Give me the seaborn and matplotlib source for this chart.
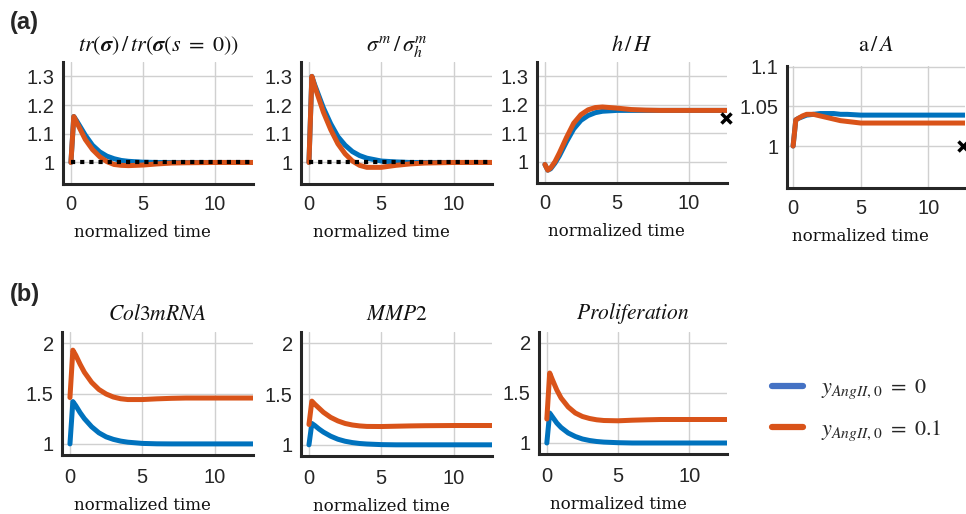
import numpy as np
import pandas as pd
import matplotlib
matplotlib.use("Agg")
import matplotlib.pyplot as plt
from matplotlib.lines import Line2D
import seaborn as sns

# ---------------- data ----------------
T = [0, 0.2, 0.4, 0.7, 1.0, 1.5, 2.0, 2.5, 3.0, 3.5, 4.0, 5.0, 6.0, 7.0, 8.0, 10.0, 13.0]

tr_blue = [1.0, 1.16, 1.145, 1.12, 1.095, 1.06, 1.037, 1.022, 1.013, 1.007, 1.004, 1.001, 1.0, 1.0, 1.0, 1.0, 1.0]
tr_orange = [1.0, 1.16, 1.14, 1.11, 1.08, 1.045, 1.02, 1.003, 0.993, 0.99, 0.989, 0.991, 0.995, 0.998, 0.999, 1.0, 1.0]

sm_blue = [1.0, 1.30, 1.27, 1.23, 1.19, 1.135, 1.09, 1.06, 1.038, 1.024, 1.015, 1.005, 1.002, 1.0, 1.0, 1.0, 1.0]
sm_orange = [1.0, 1.30, 1.265, 1.22, 1.175, 1.115, 1.065, 1.03, 1.005, 0.99, 0.983, 0.983, 0.99, 0.995, 0.998, 1.0, 1.0]

h_blue = [0.99, 0.97, 0.975, 0.995, 1.02, 1.07, 1.115, 1.145, 1.162, 1.172, 1.177, 1.18, 1.18, 1.18, 1.18, 1.18, 1.18]
h_orange = [0.99, 0.97, 0.978, 1.0, 1.03, 1.085, 1.135, 1.165, 1.182, 1.19, 1.192, 1.188, 1.183, 1.181, 1.18, 1.18, 1.18]

a_blue = [1.0, 1.033, 1.035, 1.037, 1.039, 1.040, 1.041, 1.041, 1.041, 1.040, 1.040, 1.039, 1.039, 1.039, 1.039, 1.039, 1.039]
a_orange = [1.0, 1.033, 1.035, 1.038, 1.040, 1.040, 1.038, 1.036, 1.034, 1.032, 1.031, 1.029, 1.029, 1.029, 1.029, 1.029, 1.029]

col_blue = [1.0, 1.42, 1.38, 1.31, 1.25, 1.17, 1.11, 1.07, 1.045, 1.028, 1.017, 1.005, 1.001, 1.0, 1.0, 1.0, 1.0]
col_orange = [1.46, 1.93, 1.88, 1.79, 1.71, 1.61, 1.54, 1.495, 1.465, 1.448, 1.44, 1.44, 1.447, 1.452, 1.455, 1.455, 1.455]

mmp_blue = [1.0, 1.21, 1.19, 1.155, 1.125, 1.085, 1.055, 1.035, 1.022, 1.013, 1.008, 1.002, 1.0, 1.0, 1.0, 1.0, 1.0]
mmp_orange = [1.2, 1.43, 1.40, 1.36, 1.32, 1.27, 1.235, 1.21, 1.195, 1.186, 1.181, 1.18, 1.183, 1.186, 1.188, 1.19, 1.19]

pro_blue = [1.0, 1.30, 1.26, 1.20, 1.155, 1.10, 1.065, 1.04, 1.025, 1.015, 1.009, 1.003, 1.0, 1.0, 1.0, 1.0, 1.0]
pro_orange = [1.24, 1.70, 1.63, 1.53, 1.45, 1.36, 1.30, 1.265, 1.245, 1.232, 1.225, 1.222, 1.228, 1.232, 1.235, 1.235, 1.235]

top_titles = [r"$tr(\boldsymbol{\sigma})\,/\,tr(\boldsymbol{\sigma}(s\ =\ 0))$",
              r"$\sigma^m\,/\,\sigma_h^m$", r"$h\,/\,H$", r"$\mathrm{a}\,/\,A$"]
bottom_titles = [r"$Col3mRNA$", r"$MMP2$", r"$Proliferation$"]

top_yticks = [[1, 1.1, 1.2, 1.3], [1, 1.1, 1.2, 1.3], [1, 1.1, 1.2, 1.3], [1, 1.05, 1.1]]
top_yticklabels = [["1", "1.1", "1.2", "1.3"]] * 3 + [["1", "1.05", "1.1"]]
bottom_yticks = [1, 1.5, 2]
bottom_yticklabels = ["1", "1.5", "2"]
xticks = [0, 5, 10]
xticklabels = ["0", "5", "10"]

series_names = [r"$y_{AngII,0}\ =\ 0$", r"$y_{AngII,0}\ =\ 0.1$"]

ref_line = [1.0, 1.0]           # dotted reference in first two panels
ref_line_t = [0, 13]
h_marker = (12.6, 1.155)          # target marks
a_marker = (12.55, 1.0)

BLUE = "#0072BD"
ORANGE = "#D95319"

# ---------------- style ----------------
sns.set_style("white")
plt.rcParams["font.family"] = ["Liberation Sans", "DejaVu Sans"]
plt.rcParams["mathtext.fontset"] = "stix"

W, H = 966, 514
fig = plt.figure(figsize=(W / 100, H / 100), dpi=100)


def px_axes(l, t, r, b):
    return fig.add_axes([l / W, 1 - b / H, (r - l) / W, (b - t) / H])


def make_df(blue, orange):
    return pd.DataFrame({
        "t": T + T,
        "v": blue + orange,
        "s": [series_names[0]] * len(T) + [series_names[1]] * len(T),
    })


def style_ax(ax, title, yticks, yticklabels, ylim, xlim, title_pad, title_size, xpad):
    ax.set_xlim(*xlim)
    ax.set_ylim(*ylim)
    ax.set_xticks(xticks)
    ax.set_xticklabels(xticklabels)
    ax.set_yticks(yticks)
    ax.set_yticklabels(yticklabels)
    ax.grid(True, color="#d0d0d0", linewidth=1.0)
    ax.set_axisbelow(True)
    for sp in ["top", "right"]:
        ax.spines[sp].set_visible(False)
    for sp in ["left", "bottom"]:
        ax.spines[sp].set_linewidth(2.2)
        ax.spines[sp].set_color("#262626")
    ax.tick_params(axis="both", direction="in", length=3, width=2.2,
                   colors="#262626", labelsize=14.5)
    ax.tick_params(axis="x", pad=xpad)
    ax.tick_params(axis="y", pad=6)
    ax.set_xlabel("normalized time", family="DejaVu Serif", fontsize=12,
                  color="#111111", labelpad=7)
    # label centred under the x = 5 tick, as in the reference
    ax.xaxis.label.set_x((5 - xlim[0]) / (xlim[1] - xlim[0]))
    ax.set_ylabel("")
    ax.set_title(title, fontsize=title_size, pad=title_pad, color="#111111")


pal = {series_names[0]: BLUE, series_names[1]: ORANGE}

# top row
top_boxes = [(63, 62, 253, 184), (301, 62, 492, 184), (537, 62, 727, 183), (787, 66, 965, 188)]
top_data = [(tr_blue, tr_orange), (sm_blue, sm_orange), (h_blue, h_orange), (a_blue, a_orange)]
top_ylims = [(0.925, 1.35), (0.925, 1.35), (0.925, 1.35), (0.947, 1.101)]
top_xlims = [(-0.55, 12.65)] * 3 + [(-0.45, 12.7)]

for i in range(4):
    ax = px_axes(*top_boxes[i])
    df = make_df(*top_data[i])
    sns.lineplot(data=df, x="t", y="v", hue="s", palette=pal, ax=ax,
                 linewidth=3.6, legend=False, estimator=None, sort=False)
    if i < 2:
        ax.plot(ref_line_t, ref_line, color="black", linewidth=3,
                linestyle=(0, (1, 1.2)), zorder=5)
    if i == 2:
        ax.plot([h_marker[0]], [h_marker[1]], marker="x", color="black",
                markersize=7, mew=2.5, clip_on=False, zorder=6)
    if i == 3:
        ax.plot([a_marker[0]], [a_marker[1]], marker="x", color="black",
                markersize=7, mew=2.5, clip_on=False, zorder=6)
    style_ax(ax, top_titles[i], top_yticks[i], top_yticklabels[i],
             top_ylims[i], top_xlims[i], 8 if i < 3 else 11, 16, 8)

# bottom row
bot_boxes = [(62, 332, 253, 455), (301, 332, 492, 456), (539, 332, 727, 454)]
bot_data = [(col_blue, col_orange), (mmp_blue, mmp_orange), (pro_blue, pro_orange)]
for i in range(3):
    ax = px_axes(*bot_boxes[i])
    df = make_df(*bot_data[i])
    sns.lineplot(data=df, x="t", y="v", hue="s", palette=pal, ax=ax,
                 linewidth=3.6, legend=False, estimator=None, sort=False)
    style_ax(ax, bottom_titles[i], bottom_yticks, bottom_yticklabels,
             (0.89, 2.11), (-0.55, 12.65), 9, 15.5, 9.5)

# panel labels
fig.text(10 / W, 1 - 23 / H, "(a)", fontsize=17, fontweight="bold", va="center", ha="left")
fig.text(10 / W, 1 - 295 / H, "(b)", fontsize=17, fontweight="bold", va="center", ha="left")

# legend
handles = [Line2D([0], [0], color="#4472C4", lw=4.5), Line2D([0], [0], color=ORANGE, lw=4.5)]
fig.legend(handles, series_names, loc="center left", bbox_to_anchor=(752 / W, 1 - 410 / H),
           frameon=False, fontsize=16, handlelength=1.4, labelspacing=0.75, handletextpad=0.8)

fig.savefig("out.png", dpi=100)
